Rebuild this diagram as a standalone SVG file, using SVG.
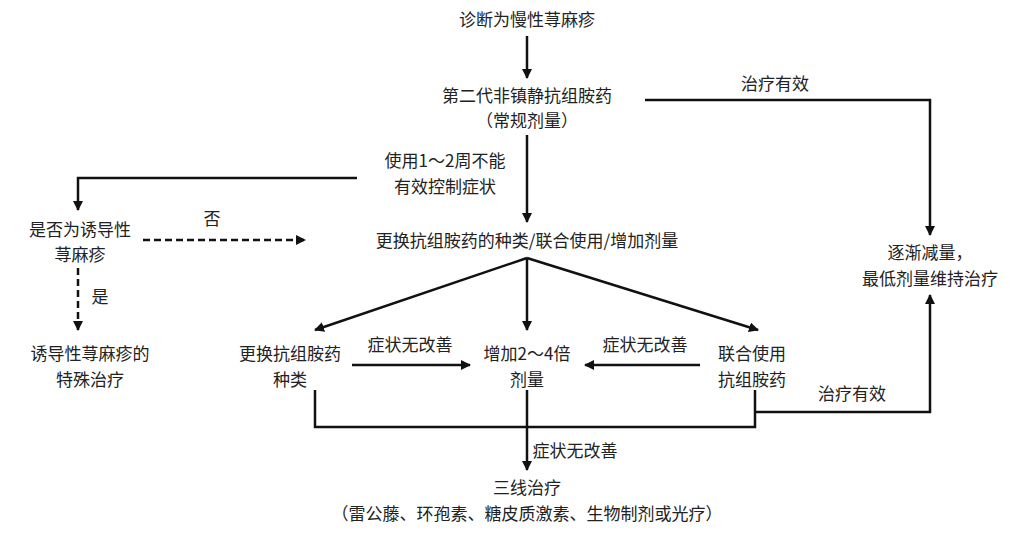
<svg xmlns="http://www.w3.org/2000/svg" width="1031" height="542" viewBox="0 0 1031 542">
<style>
text{font-family:"Noto Sans CJK SC","Liberation Sans",sans-serif;font-size:17px;fill:#222;text-anchor:middle}
.l{fill:none;stroke:#111;stroke-width:2.5}
.d{stroke-dasharray:7 4}
</style>
<defs><marker id="a" viewBox="0 0 10 10" refX="9" refY="5" markerWidth="4" markerHeight="4" orient="auto"><path d="M0 0L10 5L0 10z" fill="#111"/></marker></defs>
<rect width="1031" height="542" fill="#fff"/>
<g id="connectors">
<path class="l" d="M527 36V78" marker-end="url(#a)"/>
<path class="l" d="M645 100H930V235" marker-end="url(#a)"/>
<path class="l" d="M527 135V222" marker-end="url(#a)"/>
<path class="l" d="M357 178H78V210" marker-end="url(#a)"/>
<path class="l d" d="M143 240H305" marker-end="url(#a)"/>
<path class="l d" d="M78 268V330" marker-end="url(#a)"/>
<path class="l" d="M527 258L315 330" marker-end="url(#a)"/>
<path class="l" d="M527 258V330" marker-end="url(#a)"/>
<path class="l" d="M527 258L758 330" marker-end="url(#a)"/>
<path class="l" d="M352 365H470" marker-end="url(#a)"/>
<path class="l" d="M700 365H585" marker-end="url(#a)"/>
<path class="l" d="M315 390V427H755V390"/>
<path class="l" d="M527 390V470" marker-end="url(#a)"/>
<path class="l" d="M755 412H930V295" marker-end="url(#a)"/>
<text x="775" y="90">治疗有效</text>
<text x="445" y="167">使用1～2周不能</text>
<text x="445" y="193">有效控制症状</text>
<text x="212" y="225">否</text>
<text x="100" y="303">是</text>
<text x="410" y="351">症状无改善</text>
<text x="645" y="351">症状无改善</text>
<text x="575" y="457">症状无改善</text>
<text x="852" y="400">治疗有效</text>
</g>
<g id="n1"><text x="527" y="26">诊断为慢性荨麻疹</text></g>
<g id="n2"><text x="527" y="102">第二代非镇静抗组胺药</text><text x="527" y="127">（常规剂量）</text></g>
<g id="n3"><text x="80" y="236">是否为诱导性</text><text x="80" y="261">荨麻疹</text></g>
<g id="n4"><text x="527" y="247">更换抗组胺药的种类/联合使用/增加剂量</text></g>
<g id="n5"><text x="90" y="360">诱导性荨麻疹的</text><text x="90" y="386">特殊治疗</text></g>
<g id="n6"><text x="290" y="360">更换抗组胺药</text><text x="290" y="386">种类</text></g>
<g id="n7"><text x="527" y="360">增加2～4倍</text><text x="527" y="386">剂量</text></g>
<g id="n8"><text x="752" y="360">联合使用</text><text x="752" y="386">抗组胺药</text></g>
<g id="n9"><text x="930" y="259">逐渐减量，</text><text x="930" y="285">最低剂量维持治疗</text></g>
<g id="n10"><text x="527" y="494">三线治疗</text><text x="527" y="520">（雷公藤、环孢素、糖皮质激素、生物制剂或光疗）</text></g>
</svg>
